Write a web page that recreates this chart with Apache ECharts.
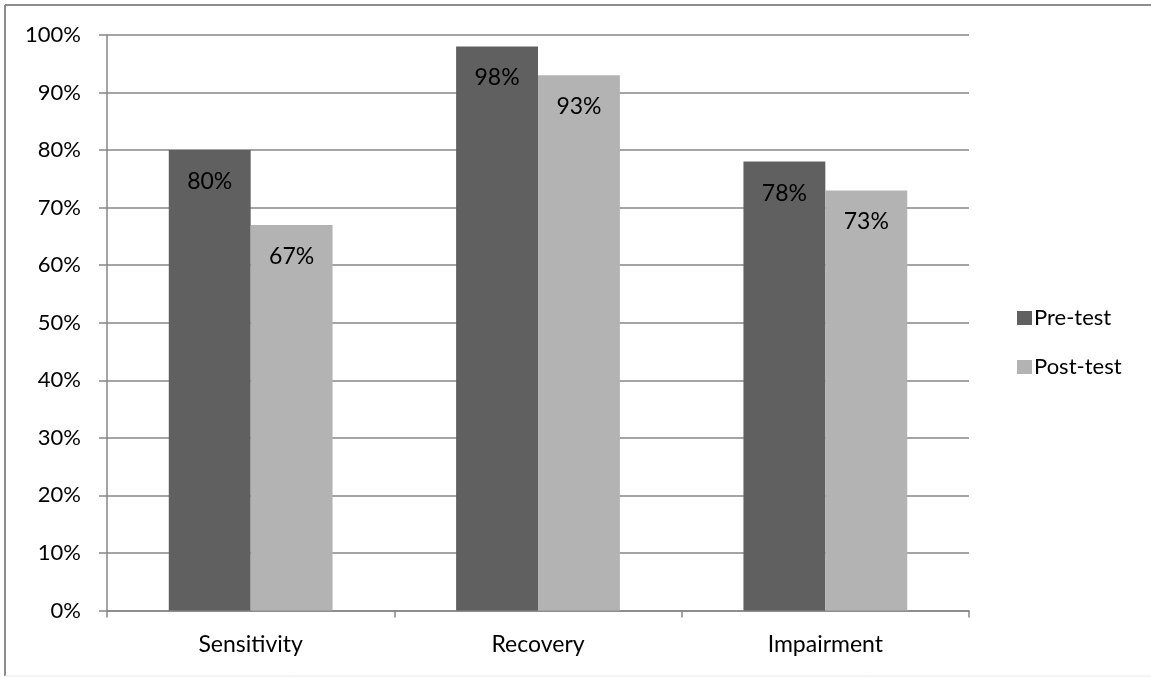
<!DOCTYPE html>
<html>
<head>
<meta charset="utf-8">
<script src="https://cdn.jsdelivr.net/npm/echarts@6/dist/echarts.min.js"></script>
<style>
  html, body { margin: 0; padding: 0; background: #fff; }
  #chart { width: 1151px; height: 677px; }
</style>
</head>
<body>
<div id="chart"></div>
<script>
// Share of participants per measure, before and after the test
const categories = ['Sensitivity', 'Recovery', 'Impairment'];
const preTest = [80, 98, 78];
const postTest = [67, 93, 73];
const seriesNames = ['Pre-test', 'Post-test'];

const FONT = 'Lato, "Open Sans", sans-serif';
const FS = 22;
const chart = echarts.init(document.getElementById('chart'), null, { renderer: 'canvas' });

const labelStyle = {
  show: true,
  position: 'insideTop',
  distance: 20,
  formatter: p => p.value + '%',
  color: '#000',
  fontFamily: FONT,
  fontSize: 23
};

chart.setOption({
  animation: false,
  backgroundColor: '#fff',
  textStyle: { fontFamily: FONT },
  graphic: [
    { type: 'line', shape: { x1: 5, y1: 5, x2: 1151, y2: 5 }, style: { stroke: '#8c8c8c', lineWidth: 2 } },
    { type: 'line', shape: { x1: 5, y1: 5, x2: 5, y2: 676 }, style: { stroke: '#8c8c8c', lineWidth: 2 } },
    { type: 'line', shape: { x1: 5, y1: 676, x2: 1151, y2: 676 }, style: { stroke: '#e8e8e8', lineWidth: 1 } }
  ],
  grid: { left: 107, right: 182, top: 35, bottom: 66.5 },
  legend: {
    orient: 'vertical',
    left: 1012,
    top: 302,
    itemWidth: 15,
    itemHeight: 14,
    itemGap: 27,
    icon: 'rect',
    textStyle: { color: '#000', fontSize: FS, fontFamily: FONT, padding: [0, 0, 0, -3] },
    data: seriesNames
  },
  xAxis: {
    type: 'category',
    data: categories,
    axisLine: { lineStyle: { color: '#868686', width: 1.5 } },
    axisTick: { show: true, length: 7, alignWithLabel: false, lineStyle: { color: '#868686', width: 1.5 } },
    axisLabel: { color: '#000', fontSize: 23, fontFamily: FONT, margin: 23 }
  },
  yAxis: {
    type: 'value',
    min: 0,
    max: 100,
    interval: 10,
    axisLine: { show: true, lineStyle: { color: '#868686', width: 1.5 } },
    axisTick: { show: true, length: 8, lineStyle: { color: '#868686', width: 1.5 } },
    splitLine: { show: true, lineStyle: { color: '#868686', width: 1.5 } },
    axisLabel: { color: '#000', fontSize: FS, fontFamily: FONT, margin: 26, formatter: '{value}%' }
  },
  series: [
    {
      name: seriesNames[0],
      type: 'bar',
      data: preTest,
      barGap: '0%',
      barCategoryGap: '43%',
      itemStyle: { color: '#606060' },
      label: labelStyle
    },
    {
      name: seriesNames[1],
      type: 'bar',
      data: postTest,
      itemStyle: { color: '#b3b3b3' },
      label: labelStyle
    }
  ]
});
</script>
</body>
</html>
